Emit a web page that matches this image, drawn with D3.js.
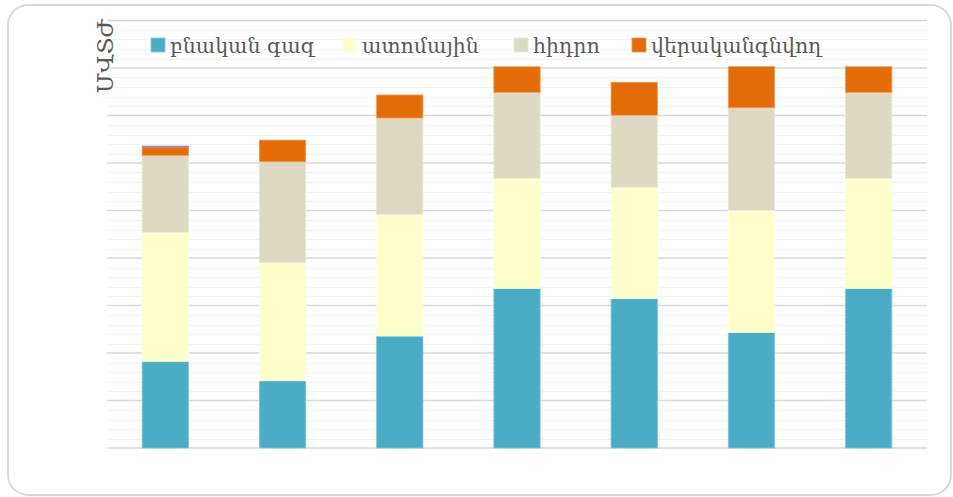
<!DOCTYPE html>
<html>
<head>
<meta charset="utf-8">
<script src="https://cdn.jsdelivr.net/npm/d3@7"></script>
<style>
  html, body { margin: 0; padding: 0; background: #ffffff; }
  svg { display: block; }
</style>
</head>
<body>
<svg id="chart" width="953" height="497"></svg>
<script>
// ---- data ----
const categories = ["1", "2", "3", "4", "5", "6", "7"];
const seriesNames = ["բնական գազ", "ատոմային", "հիդրո", "վերականգնվող"];
const gasValues = [91.3, 70.8, 117.9, 168.1, 157.2, 121.8, 168.1];
const nuclearValues = [135.8, 124.2, 128.1, 115.8, 117.3, 128.4, 115.8];
const hydroValues = [81.0, 106.3, 101.4, 90.5, 75.8, 108.0, 90.5];
const renewableValues = [8.7, 22.8, 24.2, 26.9, 34.7, 43.2, 26.9];
const otherValues = [1.0, 0, 0, 0, 0, 0, 0];
const yAxisTitle = "ՄՎՏԺ";
const yMax = 450;

const colors = ["#4bacc6", "#ffffcc", "#ddd9c3", "#e36c09", "#8064a2"];
const strokes = ["#7fc6da", "#ffffe6", "#ebe8d9", "#f09a55", "#a08ac0"];

const rows = categories.map((c, i) => ({
  cat: c,
  s0: gasValues[i], s1: nuclearValues[i], s2: hydroValues[i], s3: renewableValues[i], s4: otherValues[i]
}));
const keys = ["s0", "s1", "s2", "s3", "s4"];
const stacked = d3.stack().keys(keys)(rows);

const svg = d3.select("#chart");

// chart border
svg.append("rect")
  .attr("x", 8).attr("y", 5).attr("width", 943).attr("height", 490)
  .attr("rx", 20).attr("ry", 20)
  .attr("fill", "#ffffff").attr("stroke", "#d9d9d9").attr("stroke-width", 2);

const plot = { left: 107, right: 927, top: 20.5, bottom: 448 };

const x = d3.scaleBand().domain(categories).range([plot.left, plot.right]).paddingInner(0.605).paddingOuter(0.3);
const y = d3.scaleLinear().domain([0, yMax]).range([plot.bottom, plot.top]);

// minor gridlines
const minorTicks = d3.range(0, yMax + 1, 10).filter(v => v % 50 !== 0);
svg.append("g").selectAll("line").data(minorTicks).join("line")
  .attr("x1", plot.left).attr("x2", plot.right)
  .attr("y1", d => Math.round(y(d)) + 0.5).attr("y2", d => Math.round(y(d)) + 0.5)
  .attr("stroke", "#f2f2f2").attr("stroke-width", 1);

// major gridlines
const majorTicks = d3.range(0, yMax + 1, 50);
svg.append("g").selectAll("line").data(majorTicks).join("line")
  .attr("x1", plot.left).attr("x2", plot.right)
  .attr("y1", d => y(d)).attr("y2", d => y(d))
  .attr("stroke", "#d9d9d9").attr("stroke-width", 1.3);

// bars
svg.append("g").selectAll("g").data(stacked).join("g")
  .attr("fill", (d, i) => colors[i])
  .attr("stroke", (d, i) => strokes[i])
  .attr("stroke-width", 0.8)
  .selectAll("rect").data(d => d.filter(p => p[1] - p[0] > 0)).join("rect")
  .attr("x", d => x(d.data.cat))
  .attr("width", x.bandwidth())
  .attr("y", d => y(d[1]))
  .attr("height", d => y(d[0]) - y(d[1]));

// y axis title
svg.append("text")
  .attr("transform", `translate(113, 56) rotate(-90)`)
  .attr("text-anchor", "middle")
  .attr("font-family", "DejaVu Serif, serif")
  .attr("font-size", 23)
  .attr("fill", "#595959")
  .text(yAxisTitle);

// legend
const legendX = [151, 343, 514, 632];
const legend = svg.append("g");
seriesNames.forEach((name, i) => {
  legend.append("rect")
    .attr("x", legendX[i]).attr("y", 38).attr("width", 14).attr("height", 14)
    .attr("fill", colors[i]).attr("stroke", strokes[i]).attr("stroke-width", 0.8);
  legend.append("text")
    .attr("x", legendX[i] + 19).attr("y", 53)
    .attr("font-family", "DejaVu Serif, serif")
    .attr("font-size", 20.5)
    .attr("fill", "#595959")
    .text(name);
});
</script>
</body>
</html>
